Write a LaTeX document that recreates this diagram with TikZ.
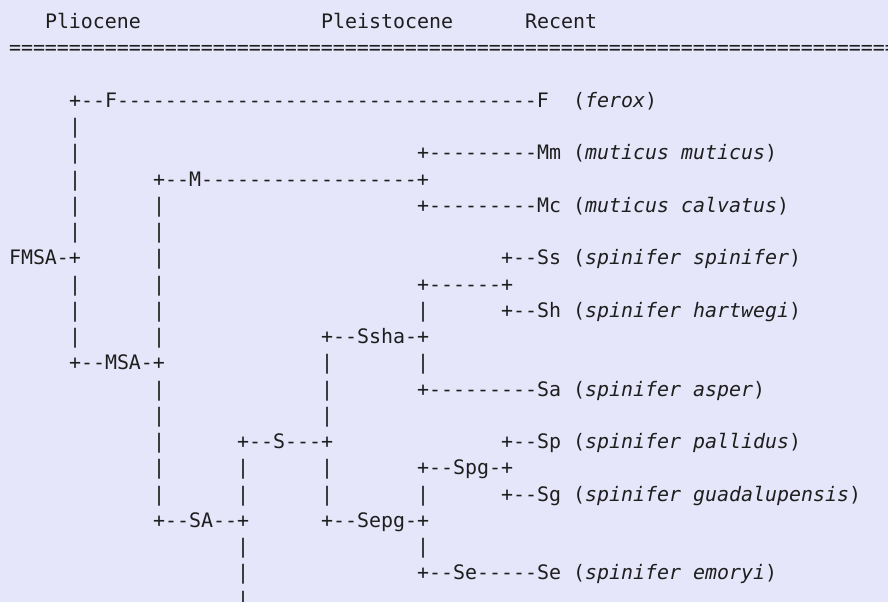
\documentclass[tikz,border=0pt]{standalone}
\usepackage{fontspec}
\setmonofont{DejaVu Sans Mono}
\definecolor{bgcol}{HTML}{E6E6FA}
\definecolor{inkcol}{HTML}{1E1E1E}
\tikzset{
  mono/.style={font=\ttfamily\fontsize{14.95}{18}\selectfont, text=inkcol,
    anchor=base west, inner sep=0pt, outer sep=0pt},
}
% place a text fragment at column #2 of line #3
\newcommand\fragat[4]{\node[mono] (#1) at ({6.75pt+#2*9pt},{-21.4pt-(#3-1)*19.69pt}) {#4};}
\begin{document}
\begin{tikzpicture}
\useasboundingbox (0,0) rectangle (666pt,-451.5pt);
\fill[bgcol] (0,0) rectangle (666pt,-451.5pt);
\clip (0,0) rectangle (666pt,-451.5pt);
% header
\fragat{hPlio}{3}{1}{Pliocene}
\fragat{hPleis}{26}{1}{Pleistocene}
\fragat{hRec}{43}{1}{Recent}
\fragat{hRule}{0}{2}{===========================================================================}
% line 4
\fragat{r4a}{5}{4}{+--F-----------------------------------F}
\fragat{r4b}{47}{4}{(\textit{ferox})}
% line 5
\fragat{r5a}{5}{5}{|}
% line 6
\fragat{r6a}{5}{6}{|}
\fragat{r6b}{34}{6}{+---------Mm (\textit{muticus muticus})}
% line 7
\fragat{r7a}{5}{7}{|}
\fragat{r7b}{12}{7}{+--M------------------+}
% line 8
\fragat{r8a}{5}{8}{|}
\fragat{r8b}{12}{8}{|}
\fragat{r8c}{34}{8}{+---------Mc (\textit{muticus calvatus})}
% line 9
\fragat{r9a}{5}{9}{|}
\fragat{r9b}{12}{9}{|}
% line 10
\fragat{r10a}{0}{10}{FMSA-+}
\fragat{r10b}{12}{10}{|}
\fragat{r10c}{41}{10}{+--Ss (\textit{spinifer spinifer})}
% line 11
\fragat{r11a}{5}{11}{|}
\fragat{r11b}{12}{11}{|}
\fragat{r11c}{34}{11}{+------+}
% line 12
\fragat{r12a}{5}{12}{|}
\fragat{r12b}{12}{12}{|}
\fragat{r12c}{34}{12}{|}
\fragat{r12d}{41}{12}{+--Sh (\textit{spinifer hartwegi})}
% line 13
\fragat{r13a}{5}{13}{|}
\fragat{r13b}{12}{13}{|}
\fragat{r13c}{26}{13}{+--Ssha-+}
% line 14
\fragat{r14a}{5}{14}{+--MSA-+}
\fragat{r14b}{26}{14}{|}
\fragat{r14c}{34}{14}{|}
% line 15
\fragat{r15a}{12}{15}{|}
\fragat{r15b}{26}{15}{|}
\fragat{r15c}{34}{15}{+---------Sa (\textit{spinifer asper})}
% line 16
\fragat{r16a}{12}{16}{|}
\fragat{r16b}{26}{16}{|}
% line 17
\fragat{r17a}{12}{17}{|}
\fragat{r17b}{19}{17}{+--S---+}
\fragat{r17c}{41}{17}{+--Sp (\textit{spinifer pallidus})}
% line 18
\fragat{r18a}{12}{18}{|}
\fragat{r18b}{19}{18}{|}
\fragat{r18c}{26}{18}{|}
\fragat{r18d}{34}{18}{+--Spg-+}
% line 19
\fragat{r19a}{12}{19}{|}
\fragat{r19b}{19}{19}{|}
\fragat{r19c}{26}{19}{|}
\fragat{r19d}{34}{19}{|}
\fragat{r19e}{41}{19}{+--Sg (\textit{spinifer guadalupensis})}
% line 20
\fragat{r20a}{12}{20}{+--SA--+}
\fragat{r20b}{26}{20}{+--Sepg-+}
% line 21
\fragat{r21a}{19}{21}{|}
\fragat{r21b}{34}{21}{|}
% line 22
\fragat{r22a}{19}{22}{|}
\fragat{r22b}{34}{22}{+--Se-----Se (\textit{spinifer emoryi})}
% line 23
\fragat{r23a}{19}{23}{|}
\end{tikzpicture}
\end{document}
